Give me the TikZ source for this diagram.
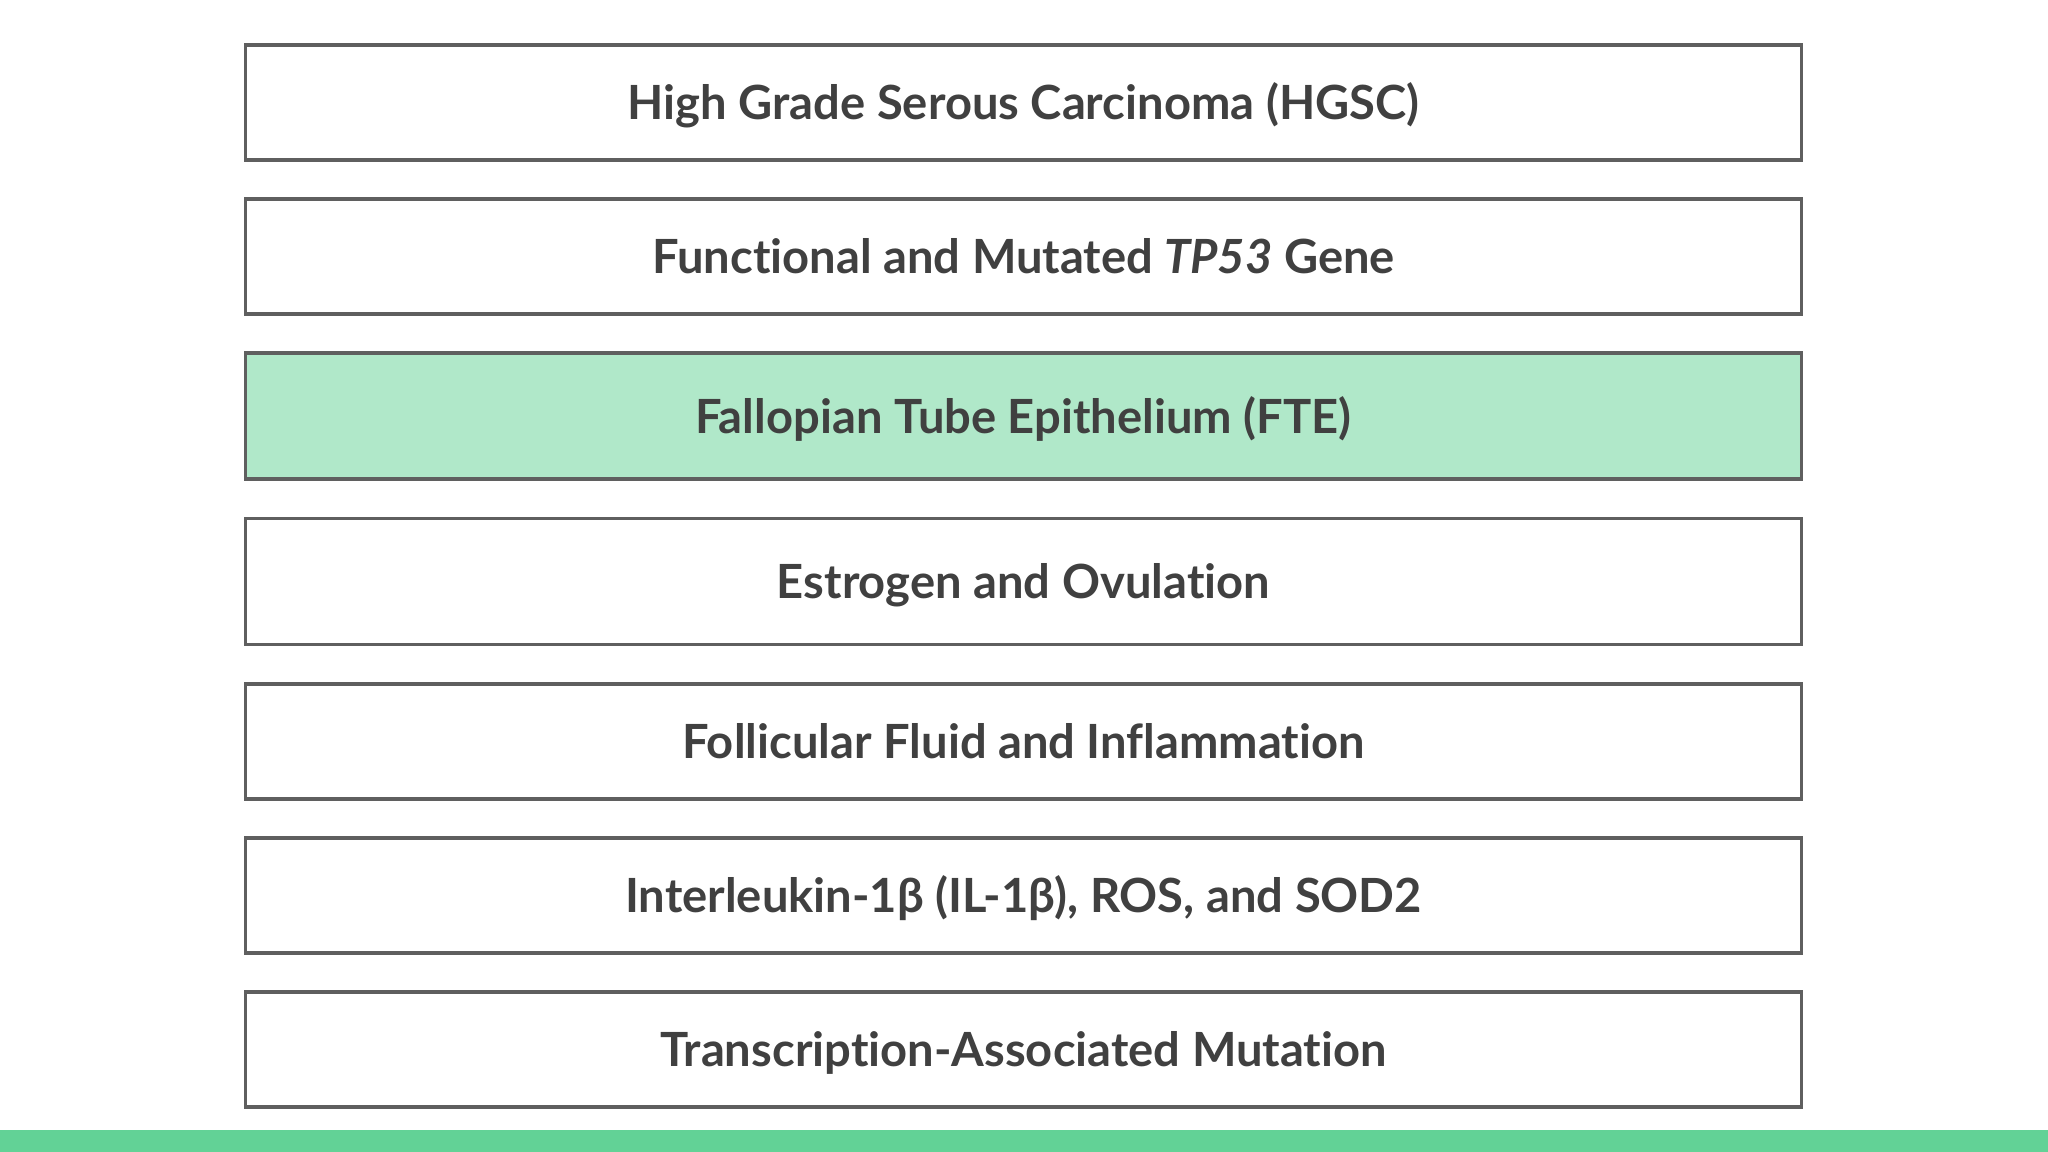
\documentclass[tikz,border=0pt]{standalone}
\usepackage{fontspec}
\setmainfont{Lato}[Ligatures=NoCommon]
\usepackage{xcolor}
\usepackage{tikz}
\usetikzlibrary{positioning}

\definecolor{boxline}{HTML}{5F5F5F}
\definecolor{boxtext}{HTML}{404040}
\definecolor{ftegreen}{HTML}{B0E8C9}
\definecolor{barGreen}{HTML}{62D296}

\tikzset{
    stage/.style={draw=boxline, line width=1.1pt, fill=white, minimum width=15.55cm, minimum height=1.15cm,
        font=\fontsize{13.4}{15}\selectfont\bfseries, text=boxtext, inner sep=0pt,
        text height=0.34cm, text depth=0pt},
    tall/.style={minimum height=1.26cm},
    hilite/.style={fill=ftegreen}
}

\begin{document}
\begin{tikzpicture}[x=0.01cm,y=-0.01cm]
    \useasboundingbox[fill=white] (0,0) rectangle (2048,1152);

    \node[stage] (hgsc) at (1023.5,102.5) {High Grade Serous Carcinoma (HGSC)};
    \node[stage] (tp53) at (1023.5,256.5) {Functional and Mutated \textit{TP53} Gene};
    \node[stage,tall,hilite] (fte) at (1023.5,416) {Fallopian Tube Epithelium (FTE)};
    \node[stage,tall] (estro) at (1023.5,581.5) {Estrogen and Ovulation};
    \node[stage] (fluid) at (1023.5,741.5) {Follicular Fluid and Inflammation};
    \node[stage] (ilros) at (1023.5,895.5) {Interleukin-1β (IL-1β), ROS, and SOD2};
    \node[stage] (tam) at (1023.5,1049.5) {Transcription-Associated Mutation};

    \fill[barGreen] (0,1130) rectangle (2048,1152); % bottom strip
\end{tikzpicture}
\end{document}
